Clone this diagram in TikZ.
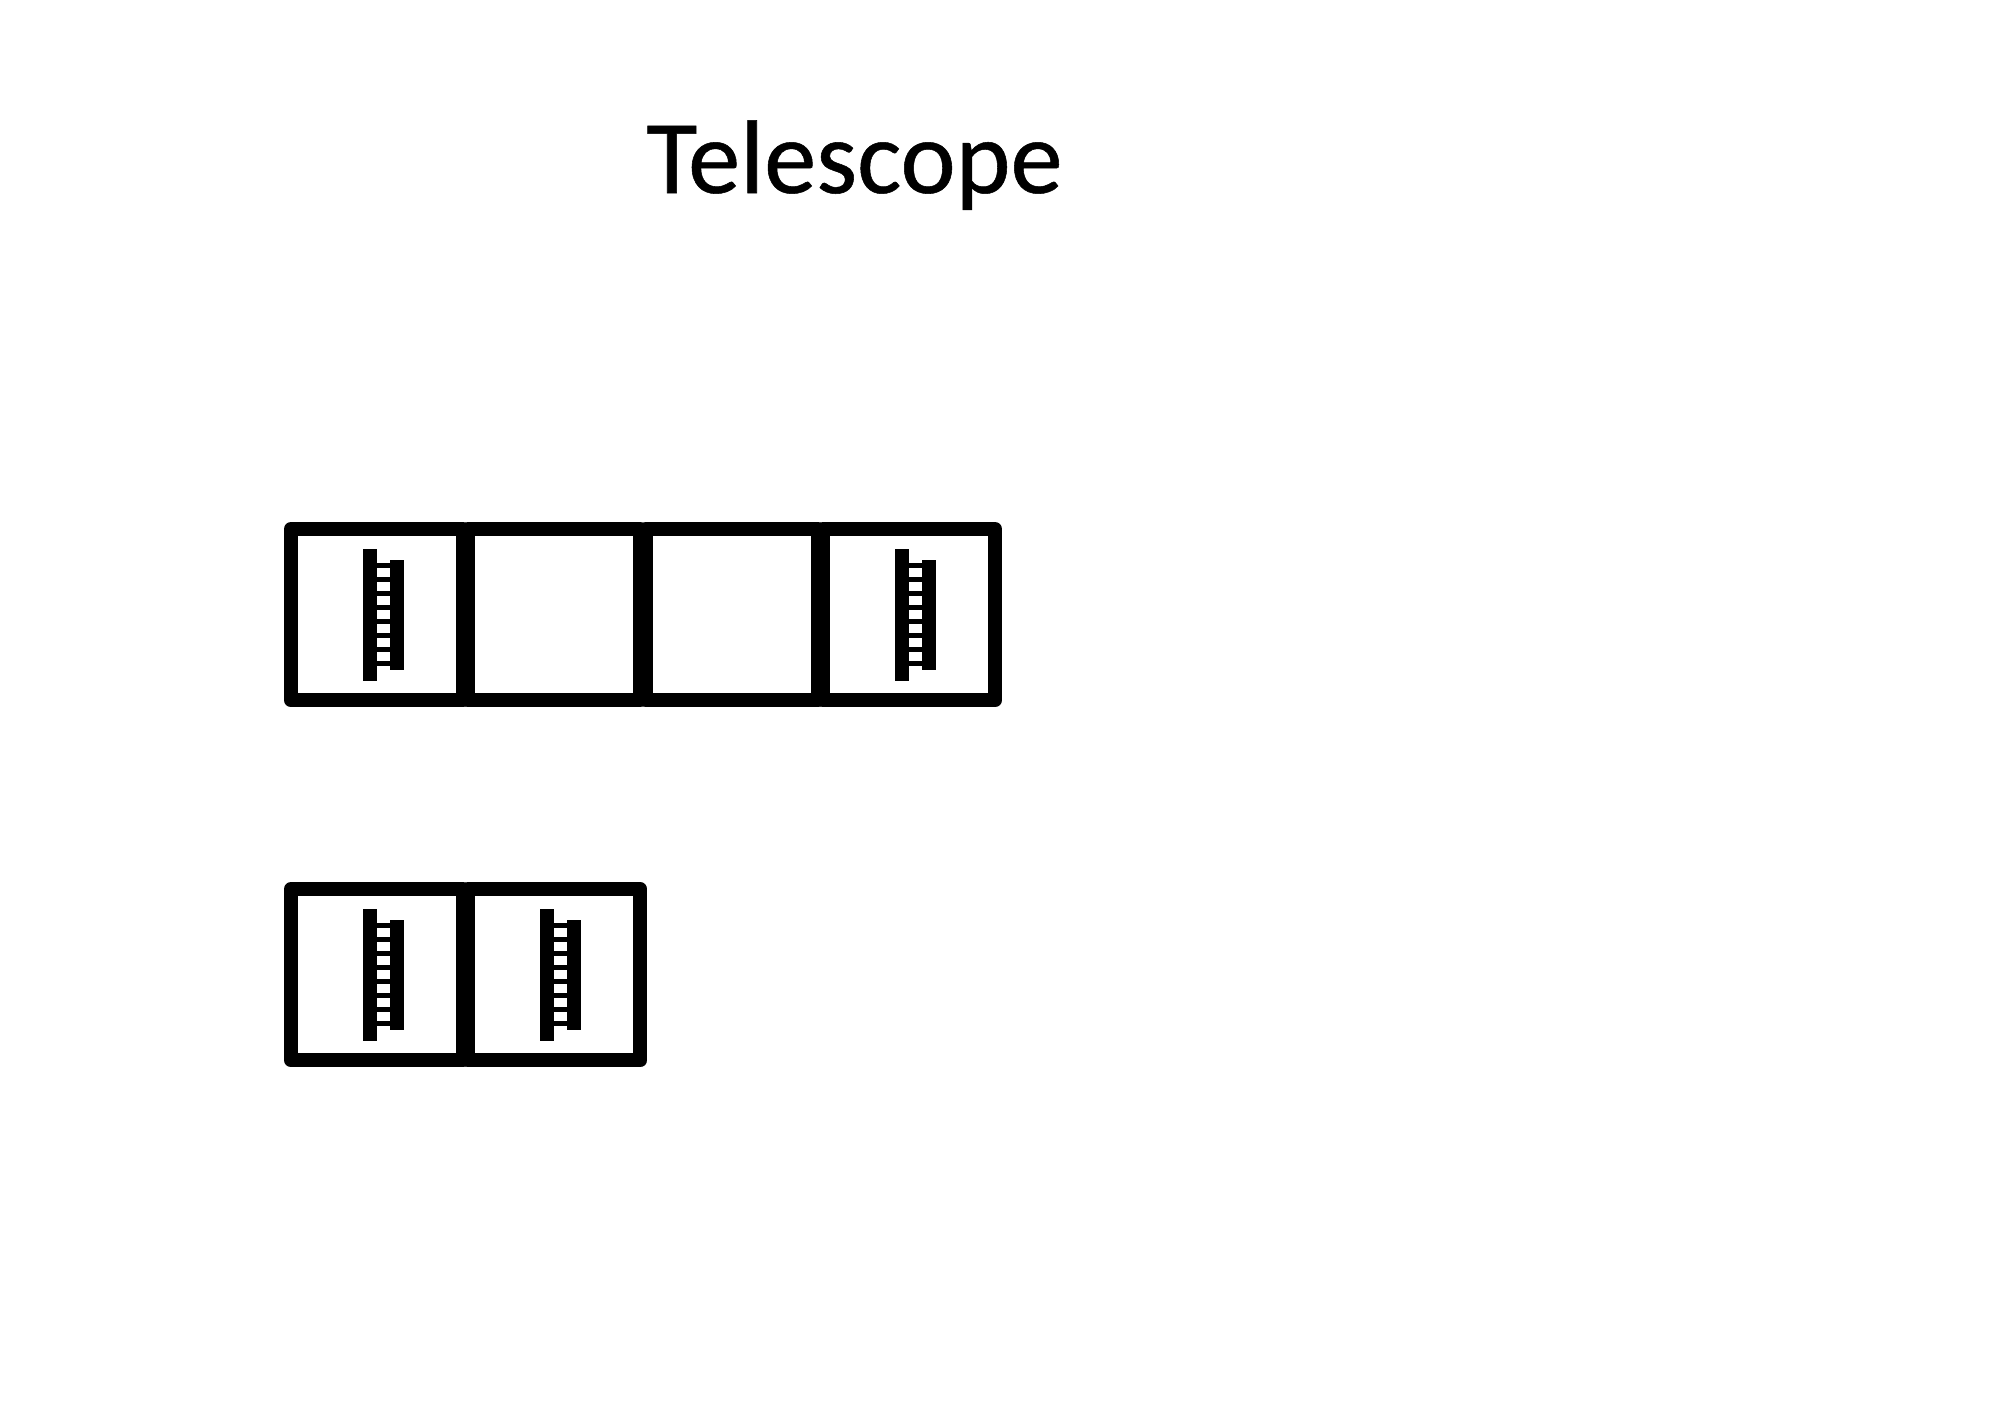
\documentclass[tikz,border=0pt]{standalone}
\usepackage{fontspec}
\setmainfont{Carlito}
\newfontfamily\titlefont[FakeBold=0.5]{Carlito}
\tikzset{
  cell/.style={draw=black,line width=7pt,line join=round,rectangle,inner sep=0pt,minimum width=86pt,minimum height=85.7pt,anchor=north west,outer sep=0pt},
  title/.style={font=\titlefont\fontsize{52.3pt}{60pt}\selectfont,anchor=base west,inner sep=0pt,text=black},
  bar/.style={fill=black,draw=none},
  rung/.style={draw=black,line width=2.4pt}
}
\newcommand{\etalon}[2]{%
  \fill[bar] (#1+72,#2+20) rectangle (#1+86,#2+152);
  \fill[bar] (#1+99,#2+31) rectangle (#1+113,#2+141);
  \foreach \r in {0,...,7} \draw[rung] (#1+86,#2+36.7+14*\r) -- (#1+99,#2+36.7+14*\r);
}
\begin{document}
\begin{tikzpicture}[x=0.5pt,y=-0.5pt]
\useasboundingbox (0,0) rectangle (2000,1413);
\node[title] (tt) at (646,193) {Telescope};
\node[cell] (a1) at (291,529) {};
\node[cell] (a2) at (468.3,529) {};
\node[cell] (a3) at (645.7,529) {};
\node[cell] (a4) at (823,529) {};
\node[cell] (b1) at (291,889) {};
\node[cell] (b2) at (468.3,889) {};
\etalon{291}{529}
\etalon{823}{529}
\etalon{291}{889}
\etalon{468.3}{889}
\end{tikzpicture}
\end{document}
